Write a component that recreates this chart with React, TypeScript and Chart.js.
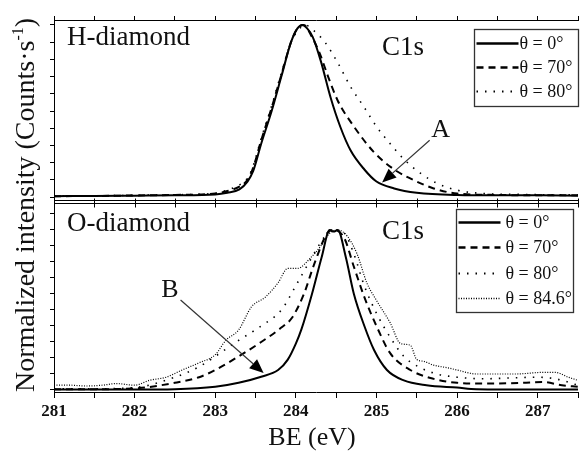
import { useEffect, useRef } from "react";
import { Chart, registerables } from "chart.js";

Chart.register(...registerables);

const FONT = "'Liberation Serif', 'Times New Roman', serif";

// ---- X axis (binding energy, eV) ----
const beMin = 281;
const beMax = 287.5;
const beStep = 0.5;

// ---- H-diamond (upper panel) ----
const hLabels = ["θ = 0°", "θ = 70°", "θ = 80°"];
const hE0 = [281, 281.5, 282, 282.5, 283, 283.15, 283.3, 283.4, 283.47, 283.57, 283.7, 283.82, 283.94, 284.02, 284.08, 284.14, 284.21, 284.31, 284.43, 284.55, 284.68, 284.85, 285.0, 285.22, 285.5, 286, 286.5, 287, 287.5];
const hI0 = [0.005, 0.006, 0.008, 0.01, 0.015, 0.025, 0.045, 0.09, 0.15, 0.31, 0.5, 0.7, 0.9, 0.98, 1.0, 0.98, 0.93, 0.79, 0.58, 0.41, 0.27, 0.16, 0.09, 0.05, 0.025, 0.012, 0.01, 0.01, 0.008];
const hE70 = [281, 281.5, 282, 282.5, 283, 283.15, 283.3, 283.4, 283.47, 283.57, 283.7, 283.82, 283.94, 284.02, 284.1, 284.2, 284.3, 284.4, 284.52, 284.72, 284.97, 285.22, 285.5, 285.71, 286, 286.5, 287, 287.5];
const hI70 = [0.005, 0.006, 0.009, 0.012, 0.02, 0.035, 0.06, 0.1, 0.17, 0.33, 0.52, 0.71, 0.9, 0.98, 1.0, 0.93, 0.83, 0.7, 0.56, 0.41, 0.26, 0.16, 0.09, 0.05, 0.02, 0.012, 0.01, 0.01];
const hE80 = [281, 281.5, 282, 282.5, 283, 283.15, 283.3, 283.4, 283.47, 283.57, 283.7, 283.82, 283.94, 284.03, 284.12, 284.19, 284.36, 284.52, 284.68, 284.85, 285.0, 285.17, 285.34, 285.54, 285.75, 286, 286.33, 286.8, 287.5];
const hI80 = [0.006, 0.007, 0.01, 0.013, 0.022, 0.04, 0.07, 0.11, 0.18, 0.34, 0.53, 0.72, 0.9, 0.97, 1.0, 0.98, 0.9, 0.78, 0.64, 0.52, 0.41, 0.31, 0.22, 0.14, 0.08, 0.04, 0.02, 0.015, 0.012];

// ---- O-diamond (lower panel) ----
const oLabels = ["θ = 0°", "θ = 70°", "θ = 80°", "θ = 84.6°"];
const oE0 = [281, 281.5, 282, 282.5, 283, 283.29, 283.57, 283.78, 283.9, 284.0, 284.07, 284.2, 284.32, 284.42, 284.47, 284.52, 284.62, 284.72, 284.85, 284.97, 285.13, 285.34, 285.62, 286, 286.24, 287, 287.5];
const oI0 = [0.003, 0.003, 0.003, 0.005, 0.02, 0.045, 0.083, 0.125, 0.19, 0.29, 0.38, 0.6, 0.83, 1.0, 0.99, 1.0, 0.83, 0.6, 0.4, 0.25, 0.125, 0.06, 0.03, 0.015, 0.005, 0.003, 0.003];
const oE70 = [281, 281.5, 282, 282.5, 282.8, 283, 283.29, 283.57, 283.82, 283.95, 284.1, 284.23, 284.39, 284.47, 284.6, 284.72, 284.85, 285.0, 285.17, 285.42, 285.67, 286, 286.4, 286.82, 287.06, 287.3, 287.5];
const oI70 = [0.005, 0.005, 0.01, 0.045, 0.08, 0.125, 0.21, 0.3, 0.39, 0.45, 0.6, 0.79, 0.98, 1.0, 0.95, 0.77, 0.58, 0.4, 0.23, 0.125, 0.075, 0.045, 0.04, 0.045, 0.05, 0.03, 0.02];
const oE80 = [281, 281.5, 282, 282.5, 282.8, 283, 283.29, 283.57, 283.82, 284.02, 284.2, 284.36, 284.45, 284.6, 284.72, 284.85, 285.0, 285.17, 285.34, 285.54, 285.75, 286, 286.33, 286.65, 286.98, 287.22, 287.5];
const oI80 = [0.008, 0.008, 0.015, 0.08, 0.145, 0.21, 0.31, 0.4, 0.5, 0.67, 0.83, 0.96, 1.0, 0.98, 0.85, 0.65, 0.48, 0.33, 0.21, 0.14, 0.1, 0.08, 0.07, 0.075, 0.08, 0.07, 0.03];
const oE846 = [281, 281.2, 281.4, 281.6, 281.77, 282, 282.18, 282.39, 282.59, 282.8, 283, 283.13, 283.29, 283.45, 283.62, 283.78, 283.9, 284.02, 284.19, 284.31, 284.42, 284.52, 284.64, 284.76, 284.88, 285, 285.17, 285.3, 285.42, 285.5, 285.58, 285.71, 285.87, 286, 286.24, 286.49, 286.73, 287.06, 287.22, 287.38, 287.5];
const oI846 = [0.03, 0.03, 0.025, 0.03, 0.04, 0.03, 0.06, 0.08, 0.125, 0.17, 0.22, 0.31, 0.375, 0.52, 0.58, 0.67, 0.76, 0.76, 0.83, 0.9, 0.98, 1.0, 0.96, 0.85, 0.67, 0.56, 0.42, 0.29, 0.28, 0.19, 0.18, 0.155, 0.14, 0.125, 0.1, 0.1, 0.1, 0.11, 0.11, 0.08, 0.06];

// ---- annotation anchors (data coordinates) ----
const arrowA = [285.66, 0.33, 285.07, 0.085]; // tail x,y -> tip x,y (upper panel)
const labelA = [285.68, 0.35];
const arrowB = [282.57, 0.5625, 283.6, 0.106]; // lower panel
const labelB = [282.33, 0.58];

const STY: Record<string, any> = {
  solid: { borderWidth: 2, borderDash: [] },
  dashed: { borderWidth: 2, borderDash: [7, 5] },
  dotted: { borderWidth: 1.6, borderDash: [1.5, 7] },
  dense: { borderWidth: 1.2, borderDash: [1, 1.5] },
};

const toPts = (xs: number[], ys: number[]) => xs.map((x, i) => ({ x, y: ys[i] }));

function mk(label: string, xs: number[], ys: number[], axis: string, style: string, panel: string) {
  return {
    label,
    data: toPts(xs, ys),
    yAxisID: axis,
    xAxisID: "x",
    borderColor: "#000",
    backgroundColor: "#000",
    pointRadius: 0,
    fill: false,
    cubicInterpolationMode: "monotone",
    panel,
    ...STY[style],
  };
}

function drawArrow(ctx: CanvasRenderingContext2D, x0: number, y0: number, x1: number, y1: number) {
  const ang = Math.atan2(y1 - y0, x1 - x0);
  const hl = 14, hw = 6;
  const bx = x1 - hl * Math.cos(ang), by = y1 - hl * Math.sin(ang);
  ctx.strokeStyle = "#333";
  ctx.lineWidth = 1.2;
  ctx.setLineDash([]);
  ctx.beginPath();
  ctx.moveTo(x0, y0);
  ctx.lineTo(bx, by);
  ctx.stroke();
  ctx.fillStyle = "#000";
  ctx.beginPath();
  ctx.moveTo(x1, y1);
  ctx.lineTo(bx + hw * Math.sin(ang), by - hw * Math.cos(ang));
  ctx.lineTo(bx - hw * Math.sin(ang), by + hw * Math.cos(ang));
  ctx.closePath();
  ctx.fill();
}

function drawLegend(ctx: CanvasRenderingContext2D, ds: any[], left: number, top: number, w: number, h: number, row0: number, rowGap: number, l0: number, l1: number, tx: number) {
  ctx.fillStyle = "#fff";
  ctx.fillRect(left, top, w, h);
  ctx.strokeStyle = "#333";
  ctx.lineWidth = 1.3;
  ctx.setLineDash([]);
  ctx.strokeRect(left, top, w, h);
  ds.forEach((d, i) => {
    const y = Math.round(top + row0 + i * rowGap) + 0.5;
    ctx.strokeStyle = "#000";
    ctx.lineWidth = d.borderWidth + 0.3;
    ctx.setLineDash(d.borderDash || []);
    ctx.beginPath();
    ctx.moveTo(left + l0, y);
    ctx.lineTo(left + l1, y);
    ctx.stroke();
    ctx.setLineDash([]);
    ctx.fillStyle = "#111";
    ctx.font = `18px ${FONT}`;
    ctx.textAlign = "left";
    ctx.textBaseline = "middle";
    ctx.fillText(d.label, left + tx, y + 1);
  });
}

const deco = {
  id: "deco",
  afterDraw(chart: any) {
    const { ctx } = chart;
    const x = chart.scales.x;
    const yH = chart.scales.yHigh;
    const yL = chart.scales.yLow;
    ctx.save();
    // middle double frame line with ticks
    const b = yH.bottom;
    ctx.strokeStyle = "#000";
    ctx.lineWidth = 1;
    ctx.setLineDash([]);
    [b - 1.5, b + 1.5].forEach((yy) => {
      ctx.beginPath();
      ctx.moveTo(x.left, Math.round(yy) + 0.5);
      ctx.lineTo(x.right, Math.round(yy) + 0.5);
      ctx.stroke();
    });
    ctx.beginPath();
    x.ticks.forEach((t: any) => {
      const px = Math.round(x.getPixelForValue(t.value)) + 0.5;
      ctx.moveTo(px, b - 3);
      ctx.lineTo(px, b + 6);
    });
    ctx.stroke();

    // panel labels
    ctx.fillStyle = "#111";
    ctx.textAlign = "left";
    ctx.textBaseline = "alphabetic";
    ctx.font = `27px ${FONT}`;
    ctx.fillText("H-diamond", x.left + 13, yH.top + 25);
    ctx.fillText("C1s", x.getPixelForValue(285.07), yH.top + 35);
    ctx.fillText("O-diamond", x.left + 13, yL.top + 29);
    ctx.fillText("C1s", x.getPixelForValue(285.07), yL.top + 37);

    // arrows + letters
    drawArrow(ctx, x.getPixelForValue(arrowA[0]), yH.getPixelForValue(arrowA[1]), x.getPixelForValue(arrowA[2]), yH.getPixelForValue(arrowA[3]));
    drawArrow(ctx, x.getPixelForValue(arrowB[0]), yL.getPixelForValue(arrowB[1]), x.getPixelForValue(arrowB[2]), yL.getPixelForValue(arrowB[3]));
    ctx.fillStyle = "#111";
    ctx.font = `26px ${FONT}`;
    ctx.textAlign = "left";
    ctx.textBaseline = "alphabetic";
    ctx.fillText("A", x.getPixelForValue(labelA[0]), yH.getPixelForValue(labelA[1]));
    ctx.fillText("B", x.getPixelForValue(labelB[0]), yL.getPixelForValue(labelB[1]));

    // legends
    const ds = chart.data.datasets;
    drawLegend(ctx, ds.filter((d: any) => d.panel === "top"), 474.5, 29.5, 104, 77, 13.5, 24, 2, 44, 45);
    drawLegend(ctx, ds.filter((d: any) => d.panel === "low"), 456.5, 209.5, 117, 103, 12.5, 25.3, 2, 44, 49);

    // x title
    ctx.fillStyle = "#111";
    ctx.font = `26px ${FONT}`;
    ctx.textAlign = "center";
    ctx.textBaseline = "alphabetic";
    ctx.fillText("BE (eV)", 312, 445);

    // y title (rotated, with superscript)
    ctx.translate(34, (yH.top + yL.bottom) / 2 - 1);
    ctx.rotate(-Math.PI / 2);
    ctx.textAlign = "left";
    const main = "Normalized intensity (Counts·s";
    ctx.font = `28px ${FONT}`;
    const wm = ctx.measureText(main).width;
    const wc = ctx.measureText(")").width;
    ctx.font = `16px ${FONT}`;
    const ws = ctx.measureText("-1").width;
    let sx = -(wm + ws + wc) / 2;
    ctx.font = `28px ${FONT}`;
    ctx.fillText(main, sx, 0);
    sx += wm;
    ctx.font = `16px ${FONT}`;
    ctx.fillText("-1", sx, -11);
    sx += ws;
    ctx.font = `28px ${FONT}`;
    ctx.fillText(")", sx, 0);
    ctx.restore();
  },
};

export default function App() {
  const ref = useRef<HTMLCanvasElement | null>(null);
  useEffect(() => {
    if (!ref.current) return;
    const datasets: any[] = [
      mk(hLabels[0], hE0, hI0, "yHigh", "solid", "top"),
      mk(hLabels[1], hE70, hI70, "yHigh", "dashed", "top"),
      mk(hLabels[2], hE80, hI80, "yHigh", "dotted", "top"),
      mk(oLabels[0], oE0, oI0, "yLow", "solid", "low"),
      mk(oLabels[1], oE70, oI70, "yLow", "dashed", "low"),
      mk(oLabels[2], oE80, oI80, "yLow", "dotted", "low"),
      mk(oLabels[3], oE846, oI846, "yLow", "dense", "low"),
    ];
    const yCommon = (min: number, max: number, weight: number) => ({
      type: "linear",
      position: "left",
      stack: "v",
      stackWeight: weight,
      min,
      max,
      ticks: { display: false, stepSize: 0.1, includeBounds: false },
      grid: { drawOnChartArea: false, drawTicks: true, tickLength: 4, color: "#000" },
      border: { display: true, color: "#000", width: 1 },
      afterFit: (s: any) => {
        s.width = 54;
      },
    });
    const chart = new Chart(ref.current, {
      type: "line",
      data: { datasets },
      plugins: [deco],
      options: {
        animation: false,
        responsive: false,
        devicePixelRatio: 1,
        layout: { padding: { top: 16, left: 0, right: 0, bottom: 0 } },
        plugins: { legend: { display: false }, tooltip: { enabled: false } },
        scales: {
          x: {
            type: "linear",
            position: "bottom",
            min: beMin,
            max: beMax,
            ticks: {
              stepSize: beStep,
              autoSkip: false,
              maxRotation: 0,
              padding: 3,
              color: "#111",
              font: { family: FONT, size: 17, weight: "bold" },
              callback: (v: any) => (Number.isInteger(v) ? String(v) : ""),
            },
            grid: { drawOnChartArea: false, drawTicks: true, tickLength: 6, color: "#000" },
            border: { display: true, color: "#000", width: 1 },
            afterFit: (s: any) => {
              s.height = 67;
            },
          },
          xTop: {
            type: "linear",
            position: "top",
            min: beMin,
            max: beMax,
            ticks: { display: false, stepSize: beStep },
            grid: { drawOnChartArea: false, drawTicks: true, tickLength: 4, color: "#000" },
            border: { display: true, color: "#000", width: 1 },
            afterFit: (s: any) => {
              s.height = 4;
            },
          },
          yLow: yCommon(-0.0125, 1.178, 190.5),
          yHigh: yCommon(-0.026, 1.029, 181.5),
        } as any,
      } as any,
    } as any);
    return () => chart.destroy();
  }, []);
  return (
    <div style={{ position: "fixed", left: 0, top: 0, width: 581, height: 459, background: "#fff" }}>
      <canvas ref={ref} width={581} height={459} style={{ display: "block" }} />
    </div>
  );
}
